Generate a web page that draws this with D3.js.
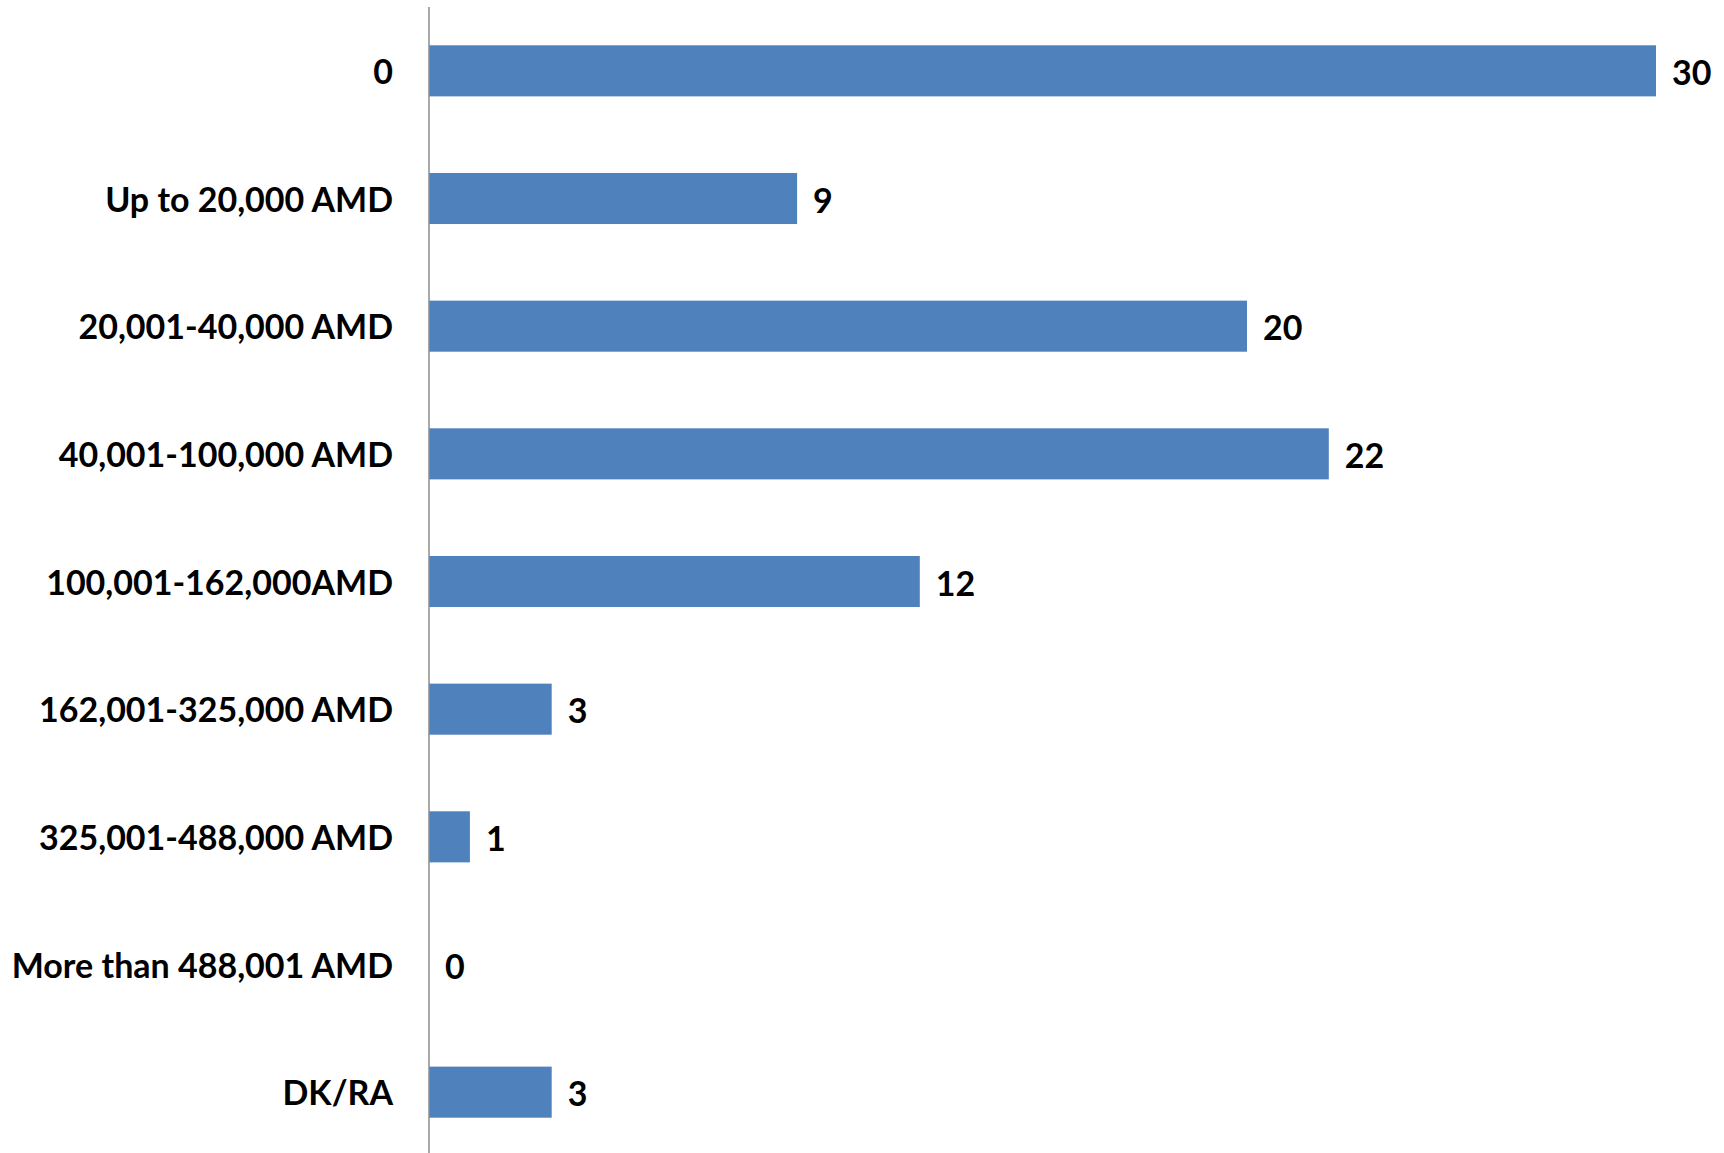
<!DOCTYPE html>
<html>
<head>
<meta charset="utf-8">
<script src="https://cdn.jsdelivr.net/npm/d3@7"></script>
<style>
  html, body { margin: 0; padding: 0; background: #fff; }
  svg { display: block; }
  text { font-family: Lato, "Open Sans", sans-serif; font-weight: bold; fill: #000; }
</style>
</head>
<body>
<svg id="chart" width="1724" height="1153"></svg>
<script>
const categories = ["0", "Up to 20,000 AMD", "20,001-40,000 AMD", "40,001-100,000 AMD",
  "100,001-162,000AMD", "162,001-325,000 AMD", "325,001-488,000 AMD",
  "More than 488,001 AMD", "DK/RA"];
const values = [30, 9, 20, 22, 12, 3, 1, 0, 3];

const svg = d3.select("#chart");
const x0 = 429, x1 = 1656;
const x = d3.scaleLinear().domain([0, 30]).range([x0, x1]);
const y = d3.scaleBand().domain(categories).range([7, 1156]).paddingInner(0.6).paddingOuter(0.3);

const data = categories.map((c, i) => ({ c, v: values[i] }));

svg.selectAll("rect.bar").data(data).enter().append("rect")
  .attr("class", "bar")
  .attr("x", x(0))
  .attr("y", d => y(d.c))
  .attr("width", d => x(d.v) - x(0))
  .attr("height", y.bandwidth())
  .attr("fill", "#4F81BD");

const yAxis = d3.axisLeft(y).tickSize(0).tickPadding(36);
const g = svg.append("g").attr("transform", `translate(${x0},0)`).call(yAxis);
g.select(".domain").attr("stroke", "#8c8c8c").attr("stroke-width", 1.5)
  .attr("d", `M0,7V1153`);
g.selectAll(".tick text")
  .style("font-family", "Lato, 'Open Sans', sans-serif")
  .style("font-weight", "bold")
  .style("font-size", "34px")
  .attr("fill", "#000")
  .attr("dy", "0.39em");

svg.selectAll("text.val").data(data).enter().append("text")
  .attr("class", "val")
  .attr("x", d => x(d.v) + 16)
  .attr("y", d => y(d.c) + y.bandwidth() / 2)
  .attr("dy", "0.42em")
  .style("font-size", "34px")
  .text(d => d.v);
</script>
</body>
</html>
